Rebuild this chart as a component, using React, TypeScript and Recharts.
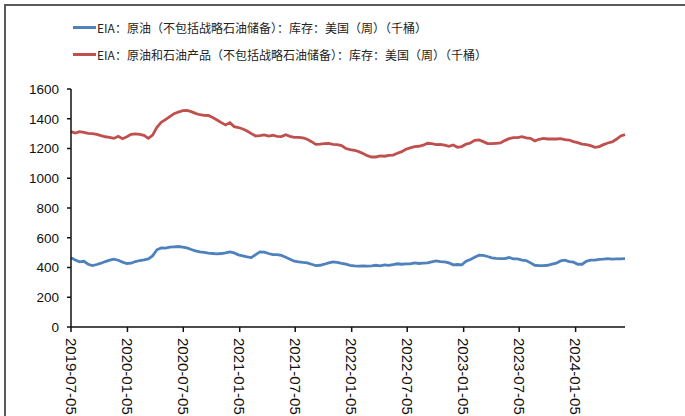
import React from 'react';
import { LineChart, Line, XAxis, YAxis } from 'recharts';

// biweekly readings, first week 2019-07-05
const START = Date.UTC(2019, 6, 5);
const STEP_DAYS = 14;

const crudeStocks = [
  465, 451, 438, 442, 422, 413, 420, 429, 440, 449,
  456, 449, 436, 427, 429, 440, 447, 451, 458, 478,
  519, 532, 530, 537, 539, 541, 537, 532, 521, 512,
  505, 501, 496, 494, 492, 494, 498, 505, 498, 485,
  478, 471, 467, 487, 505, 503, 494, 487, 487, 481,
  469, 456, 442, 438, 434, 431, 422, 413, 415, 422,
  431, 438, 434, 427, 422, 415, 411, 409, 411, 409,
  411, 415, 411, 418, 415, 420, 425, 422, 425, 425,
  431, 427, 429, 431, 438, 444, 440, 438, 431, 418,
  420, 418, 442, 454, 469, 483, 481, 474, 465, 462,
  460, 460, 467, 458, 458, 449, 447, 431, 415, 413,
  413, 415, 422, 429, 444, 449, 440, 436, 422, 422,
  442, 449, 449, 454, 456, 460, 456, 458, 458, 460,
];

const crudeAndProducts = [
  1313, 1304, 1313, 1309, 1302, 1300, 1295, 1286, 1279, 1275,
  1268, 1282, 1266, 1279, 1295, 1298, 1295, 1288, 1268, 1290,
  1343, 1376, 1394, 1414, 1434, 1445, 1454, 1456, 1448, 1436,
  1427, 1423, 1422, 1408, 1392, 1374, 1358, 1374, 1347, 1341,
  1331, 1318, 1300, 1284, 1287, 1291, 1284, 1289, 1282, 1280,
  1293, 1282, 1275, 1275, 1271, 1262, 1246, 1228, 1230, 1233,
  1235, 1228, 1226, 1220, 1200, 1193, 1188, 1179, 1166, 1152,
  1143, 1143, 1150, 1148, 1154, 1156, 1168, 1179, 1195, 1204,
  1213, 1215, 1222, 1235, 1233, 1226, 1228, 1222, 1215, 1224,
  1208, 1213, 1230, 1237, 1255, 1257, 1246, 1233, 1233, 1235,
  1237, 1253, 1266, 1273, 1273, 1280, 1271, 1268, 1251, 1262,
  1268, 1264, 1264, 1264, 1266, 1260, 1257, 1246, 1239, 1230,
  1226, 1219, 1208, 1213, 1226, 1237, 1244, 1262, 1284, 1293,
];

const tickDates = [
  '2019-07-05', '2020-01-05', '2020-07-05', '2021-01-05', '2021-07-05',
  '2022-01-05', '2022-07-05', '2023-01-05', '2023-07-05', '2024-01-05',
];

const yTicks = [0, 200, 400, 600, 800, 1000, 1200, 1400, 1600];

const seriesNames = [
  'EIA：原油（不包括战略石油储备）：库存：美国（周）（千桶）',
  'EIA：原油和石油产品（不包括战略石油储备）：库存：美国（周）（千桶）',
];
const colors = ['#4F81BD', '#C0504D'];

const DAY = 86400000;
const data = crudeStocks.map((v, i) => ({
  t: START + i * STEP_DAYS * DAY,
  crude: v,
  total: crudeAndProducts[i],
}));
const xTicks = tickDates.map((d) => Date.parse(d + 'T00:00:00Z'));

const fmtDate = (t: number) => new Date(t).toISOString().slice(0, 10);

const DateTick = (props: any) => {
  const { x, y, payload } = props;
  return (
    <text
      transform={`translate(${x},${y + 4}) rotate(90)`}
      textAnchor="start"
      dy="0.35em"
      fontSize={15}
      fontFamily="Liberation Sans, Arial, sans-serif"
      fill="#111"
    >
      {fmtDate(payload.value)}
    </text>
  );
};

export default function App() {
  return (
    <div style={{ position: 'absolute', left: 0, top: 0, width: 685, height: 416, background: '#fff', overflow: 'hidden' }}>
      <div
        style={{
          position: 'absolute', left: 4, top: 4, right: 0, bottom: 0,
          borderTop: '2px solid #5a5a5a', borderLeft: '2px solid #5a5a5a',
        }}
      />
      {seriesNames.map((name, i) => (
        <div
          key={name}
          style={{ position: 'absolute', left: 73, top: 18 + i * 27, height: 18, display: 'flex', alignItems: 'center' }}
        >
          <span style={{ display: 'inline-block', width: 23, height: 3, background: colors[i] }} />
          <span
            style={{
              display: 'inline-block', marginLeft: 1, fontSize: 12, color: '#222',
              fontFamily: '"Noto Sans CJK SC", sans-serif', whiteSpace: 'nowrap',
            }}
          >
            {name}
          </span>
        </div>
      ))}
      <LineChart
        width={685}
        height={416}
        data={data}
        margin={{ top: 89, right: 60, left: 0, bottom: 59 }}
        style={{ position: 'absolute', left: 0, top: 0 }}
      >
        <XAxis
          dataKey="t"
          type="number"
          height={30}
          domain={[data[0].t, data[data.length - 1].t]}
          ticks={xTicks}
          tick={<DateTick />}
          tickSize={5}
          interval={0}
          stroke="#111"
          strokeWidth={1.5}
          tickLine={{ stroke: '#111' }}
        />
        <YAxis
          width={71}
          domain={[0, 1600]}
          ticks={yTicks}
          interval={0}
          tickSize={4}
          tickMargin={8}
          stroke="#111"
          strokeWidth={1.5}
          tick={{ fontSize: 13.5, fill: '#111', fontFamily: 'Liberation Sans, Arial, sans-serif' }}
        />
        <Line
          dataKey="crude"
          stroke={colors[0]}
          strokeWidth={2.8}
          dot={false}
          isAnimationActive={false}
        />
        <Line
          dataKey="total"
          stroke={colors[1]}
          strokeWidth={2.8}
          dot={false}
          isAnimationActive={false}
        />
      </LineChart>
    </div>
  );
}
